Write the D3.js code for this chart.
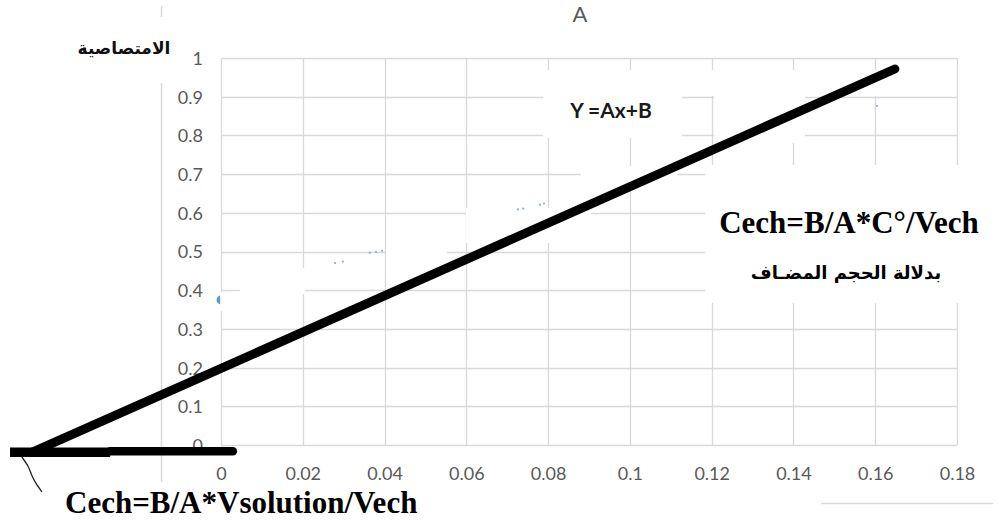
<!DOCTYPE html>
<html>
<head>
<meta charset="utf-8">
<script src="https://cdn.jsdelivr.net/npm/d3@7"></script>
<style>
  html, body { margin: 0; padding: 0; background: #fff; }
  svg { display: block; }
</style>
</head>
<body>
<svg id="chart" width="999" height="523"></svg>
<script>
// ---------- data ----------
const xTicks = [0, 0.02, 0.04, 0.06, 0.08, 0.1, 0.12, 0.14, 0.16, 0.18];
const xTickLabels = ["0", "0.02", "0.04", "0.06", "0.08", "0.1", "0.12", "0.14", "0.16", "0.18"];
const yTicks = [0, 0.1, 0.2, 0.3, 0.4, 0.5, 0.6, 0.7, 0.8, 0.9, 1];
const yTickLabels = ["0", "0.1", "0.2", "0.3", "0.4", "0.5", "0.6", "0.7", "0.8", "0.9", "1"];

// hand-drawn thick straight line (x, y in data units)
const drawnLineX = [-0.046, 0.1648];
const drawnLineY = [-0.018, 0.9716];
// hand-drawn thick horizontal strokes
const baseStroke1X = [-0.0516, -0.0271];
const baseStroke1Y = [-0.019, -0.019];
const baseStroke2X = [-0.0271, 0.0029];
const baseStroke2Y = [-0.016, -0.016];
// thin pen stroke
const penX = [-0.0487, -0.0472, -0.0462, -0.0452, -0.0438];
const penY = [-0.031, -0.055, -0.080, -0.100, -0.121];

// remnants of the original blue series
const markerX = [0];
const markerY = [0.375];
const dotX = [0.0279, 0.0298, 0.0364, 0.0379, 0.0394, 0.0726, 0.0739, 0.0780, 0.0790, 0.1604];
const dotY = [0.470, 0.474, 0.497, 0.499, 0.502, 0.609, 0.611, 0.621, 0.624, 0.876];

// white cover patches [x0, x1, y0, y1] in data units
const patchX0 = [0.0788, 0.0788, 0.1206, 0.1184, 0.0880, 0.0599, 0.0404, 0.0046, -0.0002];
const patchX1 = [0.1609, 0.1127, 0.1428, 0.1810, 0.1115, 0.0905, 0.0553, 0.0205, 0.0046];
const patchY0 = [0.902, 0.793, 0.780, 0.367, 0.659, 0.522, 0.432, 0.390, 0.346];
const patchY1 = [0.969, 0.902, 0.902, 0.7235, 0.721, 0.612, 0.509, 0.457, 0.395];

const titleText = "A";
const yAxisTitle = "الامتصاصية";
const eqText = "Y =Ax+B";
const rightFormula = "Cech=B/A*C°/Vech";
const rightCaption = "بدلالة الحجم المضـاف";
const bottomFormula = "Cech=B/A*Vsolution/Vech";

// ---------- drawing ----------
const svg = d3.select("#chart");
const x = d3.scaleLinear().domain([0, 0.18]).range([221, 957]);
const y = d3.scaleLinear().domain([0, 1]).range([445, 58]);

const gridColor = "#d9d9d9";
const labelColor = "#595959";
const tickFont = "Lato, 'Open Sans', sans-serif";

// stray grey lines from the pasted picture
svg.append("line").attr("x1", 161.5).attr("x2", 161.5).attr("y1", 6).attr("y2", 17)
  .attr("stroke", gridColor).attr("stroke-width", 1.5);
svg.append("line").attr("x1", 161.5).attr("x2", 161.5).attr("y1", 83).attr("y2", 482)
  .attr("stroke", gridColor).attr("stroke-width", 1.5);
svg.append("line").attr("x1", 821).attr("x2", 993).attr("y1", 503.5).attr("y2", 503.5)
  .attr("stroke", gridColor).attr("stroke-width", 1.5);

// gridlines
const grid = svg.append("g");
grid.selectAll("line.v").data(xTicks).join("line").attr("class", "v")
  .attr("x1", d => Math.round(x(d)) + 0.5).attr("x2", d => Math.round(x(d)) + 0.5)
  .attr("y1", y(0)).attr("y2", y(1))
  .attr("stroke", gridColor).attr("stroke-width", 1.3);
grid.selectAll("line.h").data(yTicks).join("line").attr("class", "h")
  .attr("y1", d => Math.round(y(d)) + 0.5).attr("y2", d => Math.round(y(d)) + 0.5)
  .attr("x1", x(0)).attr("x2", x(0.18))
  .attr("stroke", gridColor).attr("stroke-width", 1.3);

// blue remnant marker (half hidden later by a patch)
svg.selectAll("circle.mk").data(markerX).join("circle").attr("class", "mk")
  .attr("cx", (d, i) => x(d)).attr("cy", (d, i) => y(markerY[i]))
  .attr("r", 4.5).attr("fill", "#5b9bd5");

// white patches
svg.append("g").selectAll("rect").data(patchX0).join("rect")
  .attr("x", (d, i) => x(d))
  .attr("width", (d, i) => x(patchX1[i]) - x(d))
  .attr("y", (d, i) => y(patchY1[i]))
  .attr("height", (d, i) => y(patchY0[i]) - y(patchY1[i]))
  .attr("fill", "#fff");

// blue dots
svg.selectAll("circle.dot").data(dotX).join("circle").attr("class", "dot")
  .attr("cx", d => x(d)).attr("cy", (d, i) => y(dotY[i]))
  .attr("r", 1.1).attr("fill", "#7fb0de");

// axes (labels only)
const xAxis = d3.axisBottom(x).tickValues(xTicks)
  .tickFormat((d, i) => xTickLabels[i]).tickSize(0).tickPadding(22);
const gx = svg.append("g").attr("transform", `translate(0,${y(0)})`).call(xAxis);
gx.select(".domain").remove();
gx.selectAll("text").attr("fill", labelColor).style("font-family", tickFont).style("font-size", "18px");

const yAxis = d3.axisLeft(y).tickValues(yTicks)
  .tickFormat((d, i) => yTickLabels[i]).tickSize(0).tickPadding(18);
const gy = svg.append("g").attr("transform", `translate(${x(0)},0)`).call(yAxis);
gy.select(".domain").remove();
gy.selectAll("text").attr("fill", labelColor).style("font-family", tickFont).style("font-size", "18px")
  .attr("dy", "0.36em");

// title
svg.append("text").attr("x", 580).attr("y", 22).attr("text-anchor", "middle")
  .attr("fill", labelColor).style("font-family", tickFont).style("font-size", "22px")
  .text(titleText);

// y axis title (Arabic)
svg.append("text").attr("x", 124).attr("y", 54).attr("text-anchor", "middle")
  .attr("fill", "#111").style("font-family", "'DejaVu Sans', sans-serif")
  .style("font-weight", "bold").style("font-size", "17px")
  .text(yAxisTitle);

// equation label
svg.append("text").attr("x", 611).attr("y", 118).attr("text-anchor", "middle")
  .attr("fill", "#1a1a1a").style("font-family", tickFont).style("font-weight", "bold")
  .style("font-size", "21px").text(eqText);

// hand-drawn strokes
const lineGen = d3.line().x(d => x(d[0])).y(d => y(d[1]));
svg.append("path").datum(drawnLineX.map((d, i) => [d, drawnLineY[i]]))
  .attr("d", lineGen).attr("stroke", "#000").attr("stroke-width", 9)
  .attr("stroke-linecap", "round").attr("fill", "none");
svg.append("path").datum(baseStroke1X.map((d, i) => [d, baseStroke1Y[i]]))
  .attr("d", lineGen).attr("stroke", "#000").attr("stroke-width", 9.5)
  .attr("stroke-linecap", "butt").attr("fill", "none");
svg.append("path").datum(baseStroke2X.map((d, i) => [d, baseStroke2Y[i]]))
  .attr("d", lineGen).attr("stroke", "#000").attr("stroke-width", 8.5)
  .attr("stroke-linecap", "round").attr("fill", "none");
svg.append("path").datum(penX.map((d, i) => [d, penY[i]]))
  .attr("d", d3.line().x(d => x(d[0])).y(d => y(d[1])).curve(d3.curveCatmullRom))
  .attr("stroke", "#222").attr("stroke-width", 1.3).attr("fill", "none");

// formulas
svg.append("text").attr("x", 849).attr("y", 233).attr("text-anchor", "middle")
  .attr("fill", "#000").style("font-family", "'Liberation Serif', 'Times New Roman', serif")
  .style("font-weight", "bold").style("font-size", "31px").text(rightFormula);
svg.append("text").attr("x", 846).attr("y", 279).attr("text-anchor", "middle")
  .attr("fill", "#000").style("font-family", "'DejaVu Sans', sans-serif")
  .style("font-weight", "bold").style("font-size", "18px").text(rightCaption);
svg.append("text").attr("x", 65).attr("y", 513).attr("text-anchor", "start")
  .attr("fill", "#000").style("font-family", "'Liberation Serif', 'Times New Roman', serif")
  .style("font-weight", "bold").style("font-size", "31px").text(bottomFormula);
</script>
</body>
</html>
